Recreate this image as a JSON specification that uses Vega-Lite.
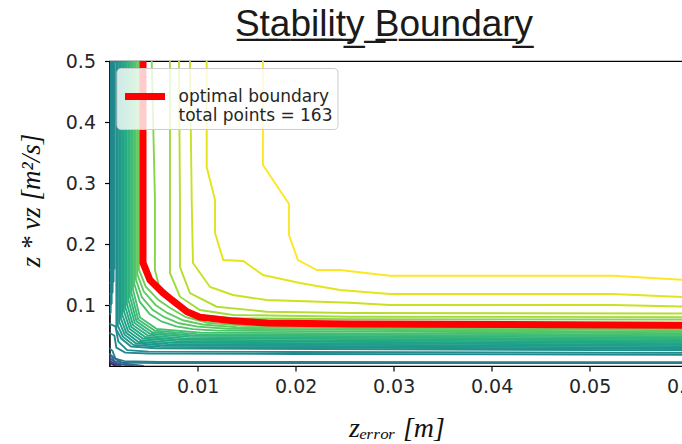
{
  "$schema": "https://vega.github.io/schema/vega-lite/v6.json",
  "width": 583,
  "height": 305,
  "autosize": {"type": "none"},
  "padding": {"left": 109.5, "top": 61, "right": 0, "bottom": 78},
  "background": "white",
  "title": {
    "text": "S\u0332t\u0332a\u0332b\u0332i\u0332l\u0332i\u0332t\u0332y\u0332\u00a0\u0332B\u0332o\u0332u\u0332n\u0332d\u0332a\u0332r\u0332y\u0332",
    "font": "Liberation Sans",
    "fontSize": 37,
    "fontWeight": "normal",
    "color": "#1a1a1a",
    "anchor": "middle",
    "dx": -17,
    "offset": -21,
    "baseline": "alphabetic"
  },
  "config": {
    "view": {"stroke": "#000000", "strokeWidth": 1.2},
    "axis": {
      "domainColor": "#000000",
      "domainWidth": 1.2,
      "tickColor": "#000000",
      "tickWidth": 1.2,
      "tickSize": 5,
      "grid": false,
      "labelFont": "DejaVu Sans",
      "labelFontSize": 19,
      "labelColor": "#262626",
      "titleFont": "Liberation Serif",
      "titleFontSize": 27,
      "titleFontWeight": "normal",
      "titleFontStyle": "italic",
      "titleColor": "#111111"
    }
  },
  "datasets": {
    "boundary": [
      {"i": 0, "x": 0.00442, "y": 0.5},
      {"i": 1, "x": 0.00442, "y": 0.169},
      {"i": 2, "x": 0.00513, "y": 0.141},
      {"i": 3, "x": 0.00646, "y": 0.120},
      {"i": 4, "x": 0.00738, "y": 0.108},
      {"i": 5, "x": 0.00891, "y": 0.089},
      {"i": 6, "x": 0.01023, "y": 0.080},
      {"i": 7, "x": 0.0136, "y": 0.074},
      {"i": 8, "x": 0.0171, "y": 0.0706},
      {"i": 9, "x": 0.0255, "y": 0.069},
      {"i": 10, "x": 0.062, "y": 0.0668}
    ],
    "contours": [
      {"c": "L1", "lv": 1.0, "i": 0, "x": 0.01666, "y": 0.5},
      {"c": "L1", "lv": 1.0, "i": 1, "x": 0.01666, "y": 0.3295},
      {"c": "L1", "lv": 1.0, "i": 2, "x": 0.01932, "y": 0.2656},
      {"c": "L1", "lv": 1.0, "i": 3, "x": 0.01932, "y": 0.2148},
      {"c": "L1", "lv": 1.0, "i": 4, "x": 0.02023, "y": 0.1738},
      {"c": "L1", "lv": 1.0, "i": 5, "x": 0.02217, "y": 0.1574},
      {"c": "L1", "lv": 1.0, "i": 6, "x": 0.02452, "y": 0.1574},
      {"c": "L1", "lv": 1.0, "i": 7, "x": 0.02962, "y": 0.148},
      {"c": "L1", "lv": 1.0, "i": 8, "x": 0.05238, "y": 0.148},
      {"c": "L1", "lv": 1.0, "i": 9, "x": 0.062, "y": 0.139},
      {"c": "L2", "lv": 0.96, "i": 0, "x": 0.01092, "y": 0.5},
      {"c": "L2", "lv": 0.96, "i": 1, "x": 0.01092, "y": 0.3262},
      {"c": "L2", "lv": 0.96, "i": 2, "x": 0.01177, "y": 0.2721},
      {"c": "L2", "lv": 0.96, "i": 3, "x": 0.01177, "y": 0.218},
      {"c": "L2", "lv": 0.96, "i": 4, "x": 0.01261, "y": 0.1738},
      {"c": "L2", "lv": 0.96, "i": 5, "x": 0.01465, "y": 0.1721},
      {"c": "L2", "lv": 0.96, "i": 6, "x": 0.01666, "y": 0.1492},
      {"c": "L2", "lv": 0.96, "i": 7, "x": 0.02044, "y": 0.1361},
      {"c": "L2", "lv": 0.96, "i": 8, "x": 0.02452, "y": 0.1246},
      {"c": "L2", "lv": 0.96, "i": 9, "x": 0.02962, "y": 0.118},
      {"c": "L2", "lv": 0.96, "i": 10, "x": 0.05238, "y": 0.118},
      {"c": "L2", "lv": 0.96, "i": 11, "x": 0.062, "y": 0.1115},
      {"c": "L3", "lv": 0.92, "i": 0, "x": 0.00921, "y": 0.5},
      {"c": "L3", "lv": 0.92, "i": 1, "x": 0.00939, "y": 0.2721},
      {"c": "L3", "lv": 0.92, "i": 2, "x": 0.00952, "y": 0.1689},
      {"c": "L3", "lv": 0.92, "i": 3, "x": 0.01126, "y": 0.1295},
      {"c": "L3", "lv": 0.92, "i": 4, "x": 0.0136, "y": 0.1164},
      {"c": "L3", "lv": 0.92, "i": 5, "x": 0.01704, "y": 0.1082},
      {"c": "L3", "lv": 0.92, "i": 6, "x": 0.02554, "y": 0.1038},
      {"c": "L3", "lv": 0.92, "i": 7, "x": 0.02962, "y": 0.1},
      {"c": "L3", "lv": 0.92, "i": 8, "x": 0.05238, "y": 0.1},
      {"c": "L3", "lv": 0.92, "i": 9, "x": 0.062, "y": 0.0965},
      {"c": "L4", "lv": 0.89, "i": 0, "x": 0.00809, "y": 0.5},
      {"c": "L4", "lv": 0.89, "i": 1, "x": 0.00819, "y": 0.2721},
      {"c": "L4", "lv": 0.89, "i": 2, "x": 0.00819, "y": 0.1623},
      {"c": "L4", "lv": 0.89, "i": 3, "x": 0.00921, "y": 0.1197},
      {"c": "L4", "lv": 0.89, "i": 4, "x": 0.01194, "y": 0.0972},
      {"c": "L4", "lv": 0.89, "i": 5, "x": 0.01704, "y": 0.089},
      {"c": "L4", "lv": 0.89, "i": 6, "x": 0.02554, "y": 0.0869},
      {"c": "L4", "lv": 0.89, "i": 7, "x": 0.062, "y": 0.0861},
      {"c": "L5", "lv": 0.86, "i": 0, "x": 0.00717, "y": 0.5},
      {"c": "L5", "lv": 0.86, "i": 1, "x": 0.00717, "y": 0.1525},
      {"c": "L5", "lv": 0.86, "i": 2, "x": 0.00819, "y": 0.1136},
      {"c": "L5", "lv": 0.86, "i": 3, "x": 0.01023, "y": 0.0918},
      {"c": "L5", "lv": 0.86, "i": 4, "x": 0.0136, "y": 0.0836},
      {"c": "L5", "lv": 0.86, "i": 5, "x": 0.02554, "y": 0.0808},
      {"c": "L5", "lv": 0.86, "i": 6, "x": 0.062, "y": 0.0801},
      {"c": "L6", "lv": 0.82, "i": 0, "x": 0.00531, "y": 0.5},
      {"c": "L6", "lv": 0.82, "i": 1, "x": 0.00564, "y": 0.2721},
      {"c": "L6", "lv": 0.82, "i": 2, "x": 0.00564, "y": 0.1574},
      {"c": "L6", "lv": 0.82, "i": 3, "x": 0.00615, "y": 0.1246},
      {"c": "L6", "lv": 0.82, "i": 4, "x": 0.00786, "y": 0.0972},
      {"c": "L6", "lv": 0.82, "i": 5, "x": 0.0099, "y": 0.0836},
      {"c": "L6", "lv": 0.82, "i": 6, "x": 0.0136, "y": 0.0782},
      {"c": "L6", "lv": 0.82, "i": 7, "x": 0.02554, "y": 0.0766},
      {"c": "L6", "lv": 0.82, "i": 8, "x": 0.062, "y": 0.0761},
      {"c": "k0", "lv": 0.78, "i": 0, "x": 0.0040, "y": 0.5},
      {"c": "k0", "lv": 0.78, "i": 1, "x": 0.0040, "y": 0.158},
      {"c": "k0", "lv": 0.78, "i": 2, "x": 0.0047, "y": 0.130},
      {"c": "k0", "lv": 0.78, "i": 3, "x": 0.0060, "y": 0.108},
      {"c": "k0", "lv": 0.78, "i": 4, "x": 0.0072, "y": 0.095},
      {"c": "k0", "lv": 0.78, "i": 5, "x": 0.0088, "y": 0.080},
      {"c": "k0", "lv": 0.78, "i": 6, "x": 0.011, "y": 0.071},
      {"c": "k0", "lv": 0.78, "i": 7, "x": 0.015, "y": 0.066},
      {"c": "k0", "lv": 0.78, "i": 8, "x": 0.062, "y": 0.0604},
      {"c": "k1", "lv": 0.761, "i": 0, "x": 0.00385, "y": 0.5},
      {"c": "k1", "lv": 0.761, "i": 1, "x": 0.00385, "y": 0.150},
      {"c": "k1", "lv": 0.761, "i": 2, "x": 0.0045, "y": 0.122},
      {"c": "k1", "lv": 0.761, "i": 3, "x": 0.0057, "y": 0.100},
      {"c": "k1", "lv": 0.761, "i": 4, "x": 0.0069, "y": 0.087},
      {"c": "k1", "lv": 0.761, "i": 5, "x": 0.0085, "y": 0.075},
      {"c": "k1", "lv": 0.761, "i": 6, "x": 0.0105, "y": 0.068},
      {"c": "k1", "lv": 0.761, "i": 7, "x": 0.014, "y": 0.0635},
      {"c": "k1", "lv": 0.761, "i": 8, "x": 0.062, "y": 0.0581},
      {"c": "k2", "lv": 0.743, "i": 0, "x": 0.00369, "y": 0.5},
      {"c": "k2", "lv": 0.743, "i": 1, "x": 0.00369, "y": 0.142},
      {"c": "k2", "lv": 0.743, "i": 2, "x": 0.0043, "y": 0.113},
      {"c": "k2", "lv": 0.743, "i": 3, "x": 0.0054, "y": 0.092},
      {"c": "k2", "lv": 0.743, "i": 4, "x": 0.0066, "y": 0.080},
      {"c": "k2", "lv": 0.743, "i": 5, "x": 0.0081, "y": 0.070},
      {"c": "k2", "lv": 0.743, "i": 6, "x": 0.010, "y": 0.0645},
      {"c": "k2", "lv": 0.743, "i": 7, "x": 0.013, "y": 0.061},
      {"c": "k2", "lv": 0.743, "i": 8, "x": 0.062, "y": 0.0557},
      {"c": "k3", "lv": 0.724, "i": 0, "x": 0.00354, "y": 0.5},
      {"c": "k3", "lv": 0.724, "i": 1, "x": 0.00354, "y": 0.134},
      {"c": "k3", "lv": 0.724, "i": 2, "x": 0.0041, "y": 0.105},
      {"c": "k3", "lv": 0.724, "i": 3, "x": 0.0051, "y": 0.085},
      {"c": "k3", "lv": 0.724, "i": 4, "x": 0.0063, "y": 0.073},
      {"c": "k3", "lv": 0.724, "i": 5, "x": 0.0078, "y": 0.065},
      {"c": "k3", "lv": 0.724, "i": 6, "x": 0.0095, "y": 0.0605},
      {"c": "k3", "lv": 0.724, "i": 7, "x": 0.012, "y": 0.058},
      {"c": "k3", "lv": 0.724, "i": 8, "x": 0.062, "y": 0.0534},
      {"c": "k4", "lv": 0.705, "i": 0, "x": 0.00339, "y": 0.5},
      {"c": "k4", "lv": 0.705, "i": 1, "x": 0.00339, "y": 0.126},
      {"c": "k4", "lv": 0.705, "i": 2, "x": 0.00411, "y": 0.0795},
      {"c": "k4", "lv": 0.705, "i": 3, "x": 0.00584, "y": 0.0606},
      {"c": "k4", "lv": 0.705, "i": 4, "x": 0.01032, "y": 0.0547},
      {"c": "k4", "lv": 0.705, "i": 5, "x": 0.062, "y": 0.0511},
      {"c": "k5", "lv": 0.687, "i": 0, "x": 0.00323, "y": 0.5},
      {"c": "k5", "lv": 0.687, "i": 1, "x": 0.00323, "y": 0.12},
      {"c": "k5", "lv": 0.687, "i": 2, "x": 0.00393, "y": 0.0763},
      {"c": "k5", "lv": 0.687, "i": 3, "x": 0.0056, "y": 0.058},
      {"c": "k5", "lv": 0.687, "i": 4, "x": 0.0099, "y": 0.0523},
      {"c": "k5", "lv": 0.687, "i": 5, "x": 0.062, "y": 0.0487},
      {"c": "k6", "lv": 0.668, "i": 0, "x": 0.00308, "y": 0.5},
      {"c": "k6", "lv": 0.668, "i": 1, "x": 0.00308, "y": 0.114},
      {"c": "k6", "lv": 0.668, "i": 2, "x": 0.00376, "y": 0.0732},
      {"c": "k6", "lv": 0.668, "i": 3, "x": 0.00536, "y": 0.0554},
      {"c": "k6", "lv": 0.668, "i": 4, "x": 0.00948, "y": 0.050},
      {"c": "k6", "lv": 0.668, "i": 5, "x": 0.062, "y": 0.0464},
      {"c": "k7", "lv": 0.649, "i": 0, "x": 0.00293, "y": 0.5},
      {"c": "k7", "lv": 0.649, "i": 1, "x": 0.00293, "y": 0.108},
      {"c": "k7", "lv": 0.649, "i": 2, "x": 0.00359, "y": 0.0701},
      {"c": "k7", "lv": 0.649, "i": 3, "x": 0.00512, "y": 0.0528},
      {"c": "k7", "lv": 0.649, "i": 4, "x": 0.00906, "y": 0.0477},
      {"c": "k7", "lv": 0.649, "i": 5, "x": 0.062, "y": 0.0441},
      {"c": "k8", "lv": 0.631, "i": 0, "x": 0.00277, "y": 0.5},
      {"c": "k8", "lv": 0.631, "i": 1, "x": 0.00277, "y": 0.102},
      {"c": "k8", "lv": 0.631, "i": 2, "x": 0.00341, "y": 0.0669},
      {"c": "k8", "lv": 0.631, "i": 3, "x": 0.00488, "y": 0.0502},
      {"c": "k8", "lv": 0.631, "i": 4, "x": 0.00864, "y": 0.0453},
      {"c": "k8", "lv": 0.631, "i": 5, "x": 0.062, "y": 0.0417},
      {"c": "k9", "lv": 0.612, "i": 0, "x": 0.00262, "y": 0.5},
      {"c": "k9", "lv": 0.612, "i": 1, "x": 0.00262, "y": 0.096},
      {"c": "k9", "lv": 0.612, "i": 2, "x": 0.00324, "y": 0.0638},
      {"c": "k9", "lv": 0.612, "i": 3, "x": 0.00464, "y": 0.0476},
      {"c": "k9", "lv": 0.612, "i": 4, "x": 0.00822, "y": 0.043},
      {"c": "k9", "lv": 0.612, "i": 5, "x": 0.062, "y": 0.0394},
      {"c": "k10", "lv": 0.593, "i": 0, "x": 0.00247, "y": 0.5},
      {"c": "k10", "lv": 0.593, "i": 1, "x": 0.00247, "y": 0.09},
      {"c": "k10", "lv": 0.593, "i": 2, "x": 0.00307, "y": 0.0607},
      {"c": "k10", "lv": 0.593, "i": 3, "x": 0.0044, "y": 0.045},
      {"c": "k10", "lv": 0.593, "i": 4, "x": 0.0078, "y": 0.0407},
      {"c": "k10", "lv": 0.593, "i": 5, "x": 0.062, "y": 0.0371},
      {"c": "k11", "lv": 0.575, "i": 0, "x": 0.00231, "y": 0.5},
      {"c": "k11", "lv": 0.575, "i": 1, "x": 0.00231, "y": 0.084},
      {"c": "k11", "lv": 0.575, "i": 2, "x": 0.00289, "y": 0.0575},
      {"c": "k11", "lv": 0.575, "i": 3, "x": 0.00416, "y": 0.0424},
      {"c": "k11", "lv": 0.575, "i": 4, "x": 0.00738, "y": 0.0383},
      {"c": "k11", "lv": 0.575, "i": 5, "x": 0.062, "y": 0.0347},
      {"c": "k12", "lv": 0.556, "i": 0, "x": 0.00216, "y": 0.5},
      {"c": "k12", "lv": 0.556, "i": 1, "x": 0.00216, "y": 0.078},
      {"c": "k12", "lv": 0.556, "i": 2, "x": 0.00272, "y": 0.0544},
      {"c": "k12", "lv": 0.556, "i": 3, "x": 0.00392, "y": 0.0398},
      {"c": "k12", "lv": 0.556, "i": 4, "x": 0.00696, "y": 0.036},
      {"c": "k12", "lv": 0.556, "i": 5, "x": 0.062, "y": 0.0324},
      {"c": "k13", "lv": 0.537, "i": 0, "x": 0.00201, "y": 0.5},
      {"c": "k13", "lv": 0.537, "i": 1, "x": 0.00201, "y": 0.072},
      {"c": "k13", "lv": 0.537, "i": 2, "x": 0.00255, "y": 0.0513},
      {"c": "k13", "lv": 0.537, "i": 3, "x": 0.00368, "y": 0.0372},
      {"c": "k13", "lv": 0.537, "i": 4, "x": 0.00654, "y": 0.0337},
      {"c": "k13", "lv": 0.537, "i": 5, "x": 0.062, "y": 0.0301},
      {"c": "k14", "lv": 0.519, "i": 0, "x": 0.00185, "y": 0.5},
      {"c": "k14", "lv": 0.519, "i": 1, "x": 0.00185, "y": 0.066},
      {"c": "k14", "lv": 0.519, "i": 2, "x": 0.00237, "y": 0.0481},
      {"c": "k14", "lv": 0.519, "i": 3, "x": 0.00344, "y": 0.0346},
      {"c": "k14", "lv": 0.519, "i": 4, "x": 0.00612, "y": 0.0313},
      {"c": "k14", "lv": 0.519, "i": 5, "x": 0.062, "y": 0.0277},
      {"c": "k15", "lv": 0.5, "i": 0, "x": 0.0017, "y": 0.5},
      {"c": "k15", "lv": 0.5, "i": 1, "x": 0.0017, "y": 0.06},
      {"c": "k15", "lv": 0.5, "i": 2, "x": 0.0022, "y": 0.045},
      {"c": "k15", "lv": 0.5, "i": 3, "x": 0.0032, "y": 0.032},
      {"c": "k15", "lv": 0.5, "i": 4, "x": 0.0057, "y": 0.029},
      {"c": "k15", "lv": 0.5, "i": 5, "x": 0.062, "y": 0.0254},
      {"c": "E1", "lv": 0.49, "i": 0, "x": 0.00152, "y": 0.5},
      {"c": "E1", "lv": 0.49, "i": 1, "x": 0.00152, "y": 0.16},
      {"c": "E1", "lv": 0.49, "i": 2, "x": 0.0013, "y": 0.157},
      {"c": "E1", "lv": 0.49, "i": 3, "x": 0.0009, "y": 0.157},
      {"c": "E2", "lv": 0.48, "i": 0, "x": 0.00142, "y": 0.5},
      {"c": "E2", "lv": 0.48, "i": 1, "x": 0.00142, "y": 0.139},
      {"c": "E2", "lv": 0.48, "i": 2, "x": 0.0012, "y": 0.136},
      {"c": "E2", "lv": 0.48, "i": 3, "x": 0.0009, "y": 0.136},
      {"c": "E3", "lv": 0.47, "i": 0, "x": 0.00132, "y": 0.5},
      {"c": "E3", "lv": 0.47, "i": 1, "x": 0.00132, "y": 0.121},
      {"c": "E3", "lv": 0.47, "i": 2, "x": 0.00115, "y": 0.118},
      {"c": "E3", "lv": 0.47, "i": 3, "x": 0.0009, "y": 0.118},
      {"c": "E4", "lv": 0.46, "i": 0, "x": 0.00122, "y": 0.5},
      {"c": "E4", "lv": 0.46, "i": 1, "x": 0.00122, "y": 0.103},
      {"c": "E4", "lv": 0.46, "i": 2, "x": 0.0011, "y": 0.1},
      {"c": "E4", "lv": 0.46, "i": 3, "x": 0.0009, "y": 0.1},
      {"c": "E5", "lv": 0.45, "i": 0, "x": 0.00112, "y": 0.5},
      {"c": "E5", "lv": 0.45, "i": 1, "x": 0.00112, "y": 0.088},
      {"c": "E5", "lv": 0.45, "i": 2, "x": 0.00105, "y": 0.085},
      {"c": "E5", "lv": 0.45, "i": 3, "x": 0.0009, "y": 0.085},
      {"c": "B1", "lv": 0.48, "i": 0, "x": 0.0009, "y": 0.07},
      {"c": "B1", "lv": 0.48, "i": 1, "x": 0.0016, "y": 0.065},
      {"c": "B1", "lv": 0.48, "i": 2, "x": 0.0019, "y": 0.04},
      {"c": "B1", "lv": 0.48, "i": 3, "x": 0.0028, "y": 0.026},
      {"c": "B1", "lv": 0.48, "i": 4, "x": 0.005, "y": 0.0235},
      {"c": "B1", "lv": 0.48, "i": 5, "x": 0.02, "y": 0.023},
      {"c": "B1", "lv": 0.48, "i": 6, "x": 0.062, "y": 0.0214},
      {"c": "B2", "lv": 0.46, "i": 0, "x": 0.0009, "y": 0.055},
      {"c": "B2", "lv": 0.46, "i": 1, "x": 0.0015, "y": 0.05},
      {"c": "B2", "lv": 0.46, "i": 2, "x": 0.0017, "y": 0.03},
      {"c": "B2", "lv": 0.46, "i": 3, "x": 0.0026, "y": 0.022},
      {"c": "B2", "lv": 0.46, "i": 4, "x": 0.005, "y": 0.0205},
      {"c": "B2", "lv": 0.46, "i": 5, "x": 0.02, "y": 0.0197},
      {"c": "B2", "lv": 0.46, "i": 6, "x": 0.062, "y": 0.0184},
      {"c": "B3", "lv": 0.43, "i": 0, "x": 0.0009, "y": 0.03},
      {"c": "B3", "lv": 0.43, "i": 1, "x": 0.0013, "y": 0.025},
      {"c": "B3", "lv": 0.43, "i": 2, "x": 0.0016, "y": 0.012},
      {"c": "B3", "lv": 0.43, "i": 3, "x": 0.0025, "y": 0.008},
      {"c": "B3", "lv": 0.43, "i": 4, "x": 0.006, "y": 0.0068},
      {"c": "B3", "lv": 0.43, "i": 5, "x": 0.02, "y": 0.0066},
      {"c": "B3", "lv": 0.43, "i": 6, "x": 0.062, "y": 0.0062},
      {"c": "B4", "lv": 0.41, "i": 0, "x": 0.0009, "y": 0.02},
      {"c": "B4", "lv": 0.41, "i": 1, "x": 0.0012, "y": 0.017},
      {"c": "B4", "lv": 0.41, "i": 2, "x": 0.0015, "y": 0.008},
      {"c": "B4", "lv": 0.41, "i": 3, "x": 0.0023, "y": 0.0055},
      {"c": "B4", "lv": 0.41, "i": 4, "x": 0.006, "y": 0.005},
      {"c": "B4", "lv": 0.41, "i": 5, "x": 0.062, "y": 0.0048},
      {"c": "P4", "lv": 0.35, "i": 0, "x": 0.0009, "y": 0.02},
      {"c": "P4", "lv": 0.35, "i": 1, "x": 0.0015, "y": 0.013},
      {"c": "P4", "lv": 0.35, "i": 2, "x": 0.0022, "y": 0.006},
      {"c": "P4", "lv": 0.35, "i": 3, "x": 0.003, "y": 0.003},
      {"c": "P4", "lv": 0.35, "i": 4, "x": 0.0045, "y": 0.0},
      {"c": "P1", "lv": 0.3, "i": 0, "x": 0.0009, "y": 0.015},
      {"c": "P1", "lv": 0.3, "i": 1, "x": 0.0013, "y": 0.01},
      {"c": "P1", "lv": 0.3, "i": 2, "x": 0.0018, "y": 0.004},
      {"c": "P1", "lv": 0.3, "i": 3, "x": 0.0025, "y": 0.002},
      {"c": "P1", "lv": 0.3, "i": 4, "x": 0.0035, "y": 0.0},
      {"c": "P2", "lv": 0.2, "i": 0, "x": 0.0009, "y": 0.011},
      {"c": "P2", "lv": 0.2, "i": 1, "x": 0.0012, "y": 0.007},
      {"c": "P2", "lv": 0.2, "i": 2, "x": 0.0016, "y": 0.003},
      {"c": "P2", "lv": 0.2, "i": 3, "x": 0.0022, "y": 0.0},
      {"c": "P3", "lv": 0.1, "i": 0, "x": 0.0009, "y": 0.008},
      {"c": "P3", "lv": 0.1, "i": 1, "x": 0.0011, "y": 0.005},
      {"c": "P3", "lv": 0.1, "i": 2, "x": 0.0014, "y": 0.002},
      {"c": "P3", "lv": 0.1, "i": 3, "x": 0.0017, "y": 0.0}
    ]
  },
  "layer": [
    {
      "data": {"name": "boundary"},
      "mark": {"type": "area", "color": "#fde1e2", "clip": true},
      "encoding": {
        "x": {"field": "x", "type": "quantitative", "scale": {"domain": [0.001, 0.0605], "nice": false, "zero": false},
              "axis": {"values": [0.01, 0.02, 0.03, 0.04, 0.05, 0.06], "format": ".2f", "labelPadding": 6,
                       "title": "z\u2091\u1d63\u1d63\u2092\u1d63 [m]", "titleFontSize": 28, "titleBaseline": "alphabetic", "titleX": 287, "titleY": 70}},
        "y": {"field": "y", "type": "quantitative", "scale": {"domain": [0, 0.5], "nice": false},
              "axis": {"values": [0.1, 0.2, 0.3, 0.4, 0.5], "format": ".1f", "labelPadding": 9,
                       "title": "z * vz [m\u00b2/s]", "titleX": -78, "titleY": 139, "titleBaseline": "middle", "titleAngle": -90}},
        "y2": {"datum": 0.5},
        "order": {"field": "i", "type": "quantitative"}
      }
    },
    {
      "data": {"name": "contours"},
      "mark": {"type": "line", "strokeWidth": 1.9, "clip": true},
      "encoding": {
        "x": {"field": "x", "type": "quantitative"},
        "y": {"field": "y", "type": "quantitative"},
        "detail": {"field": "c", "type": "nominal"},
        "stroke": {"field": "lv", "type": "quantitative", "scale": {"scheme": "viridis", "domain": [0, 1]}, "legend": null},
        "order": {"field": "i", "type": "quantitative"}
      }
    },
    {
      "data": {"name": "boundary"},
      "mark": {"type": "line", "strokeWidth": 7, "clip": true},
      "encoding": {
        "x": {"field": "x", "type": "quantitative"},
        "y": {"field": "y", "type": "quantitative"},
        "order": {"field": "i", "type": "quantitative"},
        "color": {"datum": "optimal boundary", "type": "nominal", "scale": {"range": ["#ff0000"]},
                  "legend": {"title": null, "orient": "top-left", "offset": 7, "padding": 5,
                             "fillColor": "rgba(255,255,255,0.8)", "strokeColor": "#cccccc", "cornerRadius": 4,
                             "labelFont": "DejaVu Sans", "labelFontSize": 17, "labelColor": "#262626",
                             "symbolType": "stroke", "symbolSize": 1600, "symbolStrokeWidth": 7, "labelOffset": 10,
                             "labelLimit": 400,
                             "labelExpr": "['optimal boundary', 'total points = 163']"}}
      }
    }
  ]
}
